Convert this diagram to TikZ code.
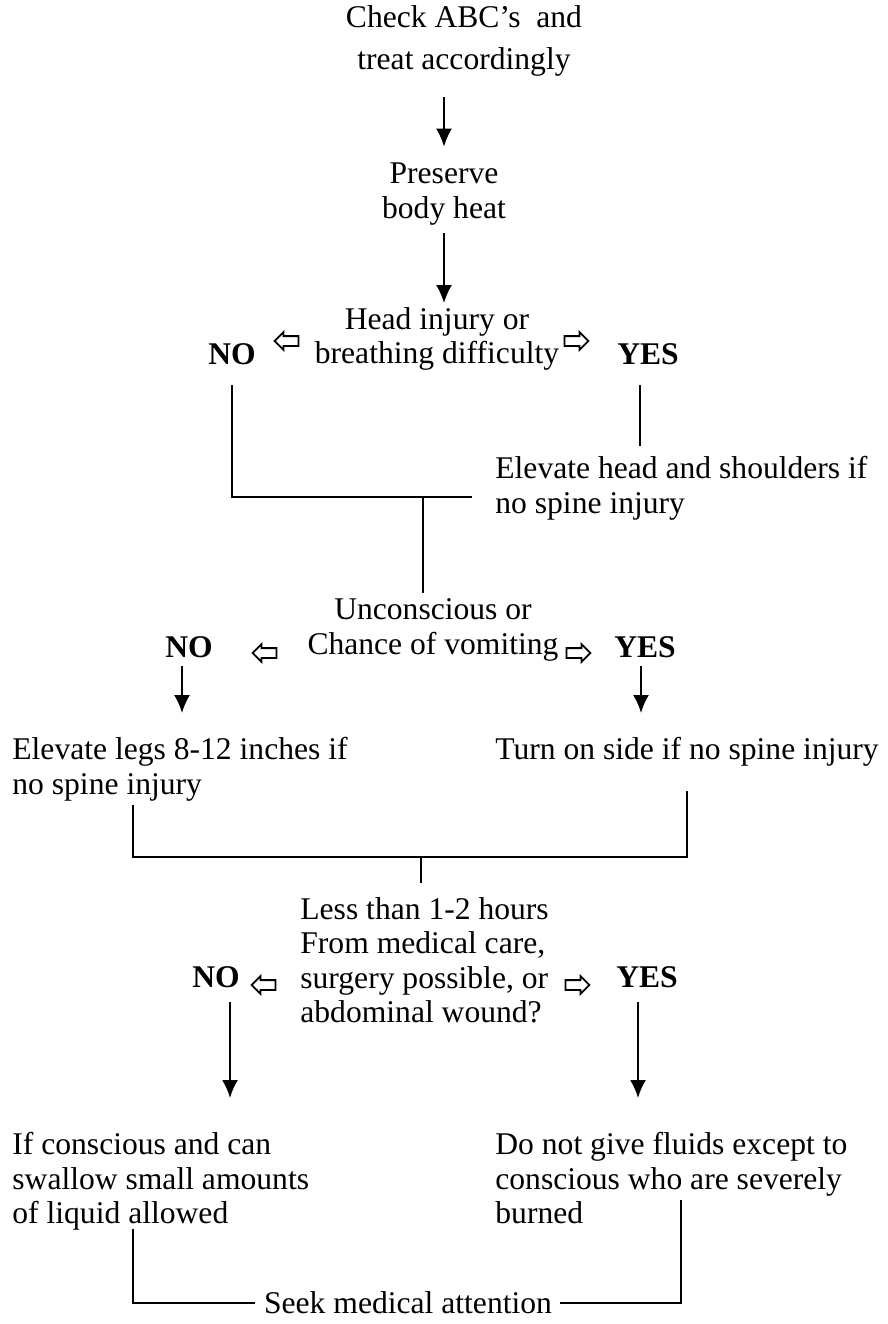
\documentclass[tikz,border=0pt]{standalone}
\usepackage{fontspec}
\setmainfont{Liberation Serif}
\usetikzlibrary{arrows.meta,positioning,calc,shapes.arrows}
\tikzset{
  txt/.style={align=center, inner sep=0pt, font=\fontsize{15.8}{17.2}\selectfont},
  lefttxt/.style={txt, align=left, anchor=north west},
  answer/.style={inner sep=0pt, font=\fontsize{15.8}{17.2}\selectfont\bfseries},
  hollow/.style={single arrow, draw=black, line width=0.9pt, inner sep=2pt, minimum height=12pt, single arrow head extend=2pt, single arrow head indent=0pt},
  hollowleft/.style={hollow, shape border rotate=180},
  arrow/.style={-{Latex[length=9pt,width=8pt]}, line width=1pt},
  line/.style={line width=1pt}
}
\begin{document}
\begin{tikzpicture}[x=0.5pt,y=-0.5pt]
\useasboundingbox (0,0) rectangle (888,1324);
% start
\node[txt, font=\fontsize{15.8}{21}\selectfont] (check) at (464,41) {Check ABC’s~~and\\treat accordingly};
\node[txt] (preserve) at (444,194) {Preserve\\body heat};
% first question
\node[txt] (head) at (437,339) {Head injury or\\breathing difficulty};
\node[answer] (no1) at (232,354) {NO};
\node[answer] (yes1) at (648,354) {YES};
\node[hollowleft] (lh1) at (289,341) {};
\node[hollow] (rh1) at (574,341) {};
\node[lefttxt] (elevhead) at (495,456) {Elevate head and shoulders if\\no spine injury};
\coordinate (j1) at (423,497);
% second question
\node[txt] (uncon) at (433,630) {Unconscious or\\Chance of vomiting};
\node[answer] (no2) at (189,647) {NO};
\node[answer] (yes2) at (645,647) {YES};
\node[hollowleft] (lh2) at (267,653) {};
\node[hollow] (rh2) at (576,653) {};
\node[lefttxt] (legs) at (12,737) {Elevate legs 8-12 inches if\\no spine injury};
\node[lefttxt] (turn) at (495,737) {Turn on side if no spine injury};
\coordinate (j2) at (421,857);
% third question
\node[lefttxt] (less) at (300,897) {Less than 1-2 hours\\From medical care,\\surgery possible, or\\abdominal wound?};
\node[answer] (no3) at (216,977) {NO};
\node[answer] (yes3) at (647,977) {YES};
\node[hollowleft] (lh3) at (266,985) {};
\node[hollow] (rh3) at (575,985) {};
\node[lefttxt] (ifcons) at (12,1132) {If conscious and can\\swallow small amounts\\of liquid allowed};
\node[lefttxt] (nofluid) at (495,1132) {Do not give fluids except to\\conscious who are severely\\burned};
\node[txt] (seek) at (408,1303) {Seek medical attention};
% connectors
\draw[arrow, shorten <=10pt, shorten >=8pt] (check.south -| preserve.north) -- (preserve.north);
\draw[arrow, shorten <=4pt, shorten >=2pt] (preserve.south) -- (preserve.south |- head.north);
\draw[line, shorten <=10pt, shorten >=11.5pt] (no1.south) |- (elevhead.west |- j1);
\draw[line, shorten <=10pt, shorten >=5pt] ([xshift=-4pt]yes1.south) -- ([xshift=-4pt]yes1.south |- elevhead.north);
\draw[line, shorten >=3pt] (j1) -- (uncon.north -| j1);
\draw[arrow, shorten <=4pt, shorten >=12pt] ([xshift=-3.5pt]no2.south) -- ([xshift=-3.5pt]no2.south |- legs.north);
\draw[arrow, shorten <=4pt, shorten >=12pt] ([xshift=-2pt]yes2.south) -- ([xshift=-2pt]yes2.south |- turn.north);
\draw[line, shorten <=2pt, shorten >=12pt] ([xshift=60.5pt]legs.south west) |- (j2) -| (turn.south);
\draw[line, shorten >=7pt] (j2) -- (less.north -| j2);
\draw[arrow, shorten <=7pt, shorten >=17pt] ([xshift=7pt]no3.south) -- ([xshift=7pt]no3.south |- ifcons.north);
\draw[arrow, shorten <=7pt, shorten >=17pt] ([xshift=-4.5pt]yes3.south) -- ([xshift=-4.5pt]yes3.south |- nofluid.north);
\draw[line, shorten <=-1pt, shorten >=4.5pt] ([xshift=60.5pt]ifcons.south west) |- (seek.west);
\draw[line, shorten <=4pt] (seek.east) -| ([xshift=5pt,yshift=12pt]nofluid.south);
\end{tikzpicture}
\end{document}
